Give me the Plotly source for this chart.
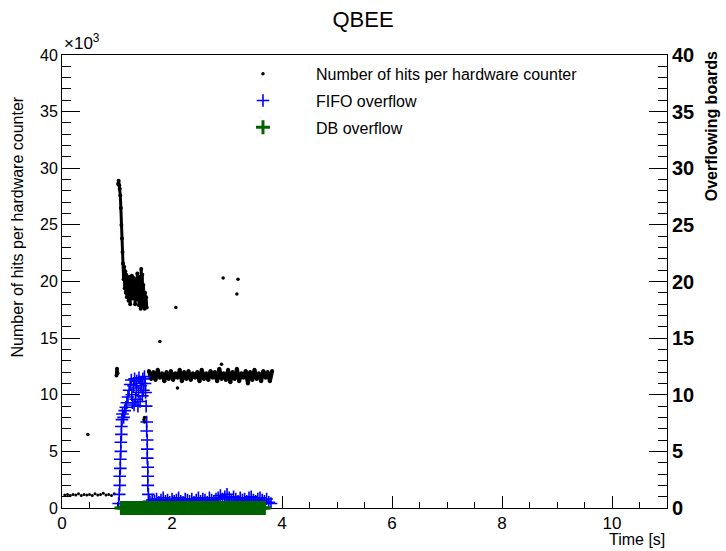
import plotly.graph_objects as go

# ---------------- data (hits in units of 10^3, overflow in boards) ----------------
pre_t = [0.05, 0.10, 0.15, 0.20, 0.25, 0.30, 0.35, 0.40, 0.45, 0.50,
         0.55, 0.60, 0.65, 0.70, 0.75, 0.80, 0.85, 0.90, 0.95]
pre_hits = [1.15, 1.2, 1.1, 1.2, 1.15, 1.25, 1.1, 1.2, 1.15, 1.2,
            1.1, 1.25, 1.15, 1.2, 1.3, 1.15, 1.2, 1.1, 1.25]

cluster_t = [0.99, 1.00, 1.00, 1.01]
cluster_hits = [11.7, 12.0, 12.3, 11.9]

spike_t = [1.02, 1.03, 1.04, 1.05, 1.06, 1.07, 1.08, 1.09, 1.10, 1.11,
           1.12, 1.13, 1.14, 1.15, 1.16, 1.17, 1.18, 1.19, 1.20, 1.21,
           1.22, 1.23, 1.24, 1.25, 1.26, 1.27, 1.28, 1.29, 1.30, 1.31,
           1.32, 1.33, 1.34, 1.35, 1.36, 1.37, 1.38, 1.39, 1.40, 1.41,
           1.42, 1.43, 1.44, 1.45, 1.46, 1.47, 1.48, 1.49, 1.50, 1.51,
           1.52, 1.53, 1.54]
spike_hits = [28.6, 28.9, 28.5, 28.2, 27.6, 26.5, 25.0, 23.8, 22.6, 21.6,
              20.2, 21.3, 19.4, 20.9, 19.0, 20.6, 18.6, 20.1, 19.2, 18.3,
              20.4, 19.0, 18.0, 19.9, 18.7, 20.5, 18.5, 19.7, 20.3, 18.6,
              19.4, 18.0, 20.2, 18.4, 19.8, 20.7, 18.8, 19.5, 17.9, 20.4,
              19.0, 17.6, 21.1, 18.2, 20.6, 17.8, 19.7, 18.4, 17.6, 19.0,
              17.8, 18.6, 17.7]

plat_t = [1.58, 1.62, 1.66, 1.70, 1.74, 1.78, 1.82, 1.86, 1.90, 1.94,
          1.98, 2.02, 2.06, 2.10, 2.14, 2.18, 2.22, 2.26, 2.30, 2.34,
          2.38, 2.42, 2.46, 2.50, 2.54, 2.58, 2.62, 2.66, 2.70, 2.74,
          2.78, 2.82, 2.86, 2.90, 2.94, 2.98, 3.02, 3.06, 3.10, 3.14,
          3.18, 3.22, 3.26, 3.30, 3.34, 3.38, 3.42, 3.46, 3.50, 3.54,
          3.58, 3.62, 3.66, 3.70, 3.74, 3.78, 3.82]
plat_hits = [12.1, 11.4, 12.0, 11.3, 12.2, 11.5, 11.9, 11.2, 12.0, 11.4,
             12.1, 11.3, 11.9, 11.5, 12.2, 11.2, 12.0, 11.4, 12.1, 11.3,
             11.9, 11.5, 12.0, 11.2, 12.2, 11.4, 11.9, 11.3, 12.1, 11.5,
             12.0, 11.2, 12.3, 11.4, 11.9, 11.3, 12.2, 11.1, 12.0, 11.4,
             12.3, 11.2, 11.9, 11.5, 12.1, 11.0, 12.0, 11.3, 12.2, 11.4,
             11.9, 11.2, 12.1, 11.5, 12.0, 11.2, 12.1]

stray_t = [0.47, 1.49, 1.50, 1.50, 1.78, 2.07, 2.10, 2.90, 2.93, 3.18, 3.20]
stray_hits = [6.5, 7.8, 7.6, 8.0, 14.7, 17.7, 10.6, 12.7, 20.3, 18.9, 20.2]

fifo_hump_t = [1.03, 1.04, 1.05, 1.05, 1.06, 1.06, 1.07, 1.07, 1.08, 1.08,
               1.09, 1.10, 1.12, 1.14, 1.16, 1.18, 1.20, 1.22, 1.24, 1.26,
               1.27, 1.28, 1.30, 1.31, 1.32, 1.34, 1.35, 1.36, 1.38, 1.39,
               1.40, 1.42, 1.43, 1.44, 1.46, 1.47, 1.48, 1.50, 1.51, 1.52,
               1.53, 1.54, 1.54, 1.55, 1.55, 1.55, 1.56, 1.56, 1.56, 1.57,
               1.58]
fifo_hump = [0.4, 1.2, 2.0, 2.8, 3.5, 4.3, 5.0, 5.8, 6.5, 7.2,
             7.8, 8.3, 8.0, 8.6, 8.9, 9.3, 9.8, 10.4, 10.9, 11.3,
             10.0, 9.3, 10.8, 9.1, 11.4, 9.6, 10.6, 11.2, 9.0, 10.2,
             11.5, 9.4, 10.8, 11.0, 9.9, 11.4, 10.4, 11.6, 11.0, 10.2,
             9.0, 7.6, 6.8, 6.0, 5.2, 4.4, 3.6, 2.8, 2.0, 1.2,
             0.6]

fifo_plat_t = [1.60, 1.64, 1.68, 1.72, 1.76, 1.80, 1.84, 1.88, 1.92, 1.96,
               2.00, 2.04, 2.08, 2.12, 2.16, 2.20, 2.24, 2.28, 2.32, 2.36,
               2.40, 2.44, 2.48, 2.52, 2.56, 2.60, 2.64, 2.68, 2.72, 2.76,
               2.80, 2.84, 2.88, 2.92, 2.96, 3.00, 3.04, 3.08, 3.12, 3.16,
               3.20, 3.24, 3.28, 3.32, 3.36, 3.40, 3.44, 3.48, 3.52, 3.56,
               3.60, 3.64, 3.68, 3.72, 3.76, 3.80]
fifo_plat = [0.5, 0.7, 0.6, 0.8, 0.5, 0.7, 0.9, 0.6, 0.7, 0.5,
             0.8, 0.6, 0.7, 0.9, 0.6, 0.5, 0.8, 0.7, 0.6, 0.8,
             0.5, 0.7, 0.9, 0.6, 0.8, 0.7, 0.5, 0.9, 0.7, 0.6,
             0.8, 0.9, 1.1, 0.8, 1.0, 1.2, 0.9, 0.7, 1.0, 0.8,
             0.6, 0.9, 0.7, 0.8, 0.6, 0.9, 1.0, 0.7, 0.6, 0.8,
             0.9, 0.7, 0.6, 0.8, 0.5, 0.4]

db_t = [1.08, 1.12, 1.16, 1.20, 1.24, 1.28, 1.32, 1.36, 1.40, 1.44,
        1.48, 1.52, 1.56, 1.60, 1.64, 1.68, 1.72, 1.76, 1.80, 1.84,
        1.88, 1.92, 1.96, 2.00, 2.04, 2.08, 2.12, 2.16, 2.20, 2.24,
        2.28, 2.32, 2.36, 2.40, 2.44, 2.48, 2.52, 2.56, 2.60, 2.64,
        2.68, 2.72, 2.76, 2.80, 2.84, 2.88, 2.92, 2.96, 3.00, 3.04,
        3.08, 3.12, 3.16, 3.20, 3.24, 3.28, 3.32, 3.36, 3.40, 3.44,
        3.48, 3.52, 3.56, 3.60, 3.64, 3.68]
db_v = [0, 0, 0, 0, 0, 0, 0, 0, 0, 0,
        0, 0, 0, 0, 0, 0, 0, 0, 0, 0,
        0, 0, 0, 0, 0, 0, 0, 0, 0, 0,
        0, 0, 0, 0, 0, 0, 0, 0, 0, 0,
        0, 0, 0, 0, 0, 0, 0, 0, 0, 0,
        0, 0, 0, 0, 0, 0, 0, 0, 0, 0,
        0, 0, 0, 0, 0, 0]

x_ticks = [0, 2, 4, 6, 8, 10]
y_ticks = [0, 5, 10, 15, 20, 25, 30, 35, 40]

# ---------------- figure ----------------
FONT = "Liberation Sans, Arial, sans-serif"
BLUE = "#0000ff"
GREEN = "#006400"

fig = go.Figure()

dot = dict(color="black", size=4)
fig.add_trace(go.Scatter(x=pre_t, y=pre_hits, mode="markers", marker=dict(color="black", size=3),
                         showlegend=False, hoverinfo="skip"))
fig.add_trace(go.Scatter(x=cluster_t, y=cluster_hits, mode="lines+markers", marker=dot,
                         line=dict(color="black", width=3), showlegend=False, hoverinfo="skip"))
fig.add_trace(go.Scatter(x=spike_t, y=spike_hits, mode="lines+markers", marker=dot,
                         line=dict(color="black", width=3), showlegend=False, hoverinfo="skip"))
fig.add_trace(go.Scatter(x=plat_t, y=plat_hits, mode="lines+markers", marker=dot,
                         line=dict(color="black", width=4), showlegend=False, hoverinfo="skip"))
fig.add_trace(go.Scatter(x=stray_t, y=stray_hits, mode="markers", marker=dict(color="black", size=3.5),
                         name="Number of hits per hardware counter", legendgroup="a"))

fig.add_trace(go.Scatter(x=fifo_hump_t + fifo_plat_t, y=fifo_hump + fifo_plat, mode="markers",
                         yaxis="y2", name="FIFO overflow", legendgroup="b",
                         marker=dict(symbol="cross-thin", size=9, color=BLUE,
                                     line=dict(color=BLUE, width=1.6))))
fig.add_trace(go.Scatter(x=db_t, y=db_v, mode="markers", yaxis="y2", name="DB overflow",
                         legendgroup="c", cliponaxis=False,
                         marker=dict(symbol="cross-thin", size=10, color=GREEN,
                                     line=dict(color=GREEN, width=3))))

axis_common = dict(showgrid=False, zeroline=False, showline=True, linecolor="black",
                   linewidth=1, ticks="inside", tickcolor="black", tickwidth=1)

fig.update_layout(
    width=726, height=551,
    margin=dict(l=62, r=59, t=55, b=43),
    paper_bgcolor="white", plot_bgcolor="white",
    font=dict(family=FONT, color="black"),
    title=dict(text="QBEE", x=0.5, xanchor="center", y=1 - 19 / 551, yanchor="middle",
               font=dict(size=22, family=FONT)),
    legend=dict(x=0.2446, y=0.996, xanchor="left", yanchor="top", bgcolor="rgba(0,0,0,0)",
                font=dict(size=16, family=FONT), tracegroupgap=3, itemwidth=96),
    xaxis=dict(range=[0, 11], tickvals=x_ticks, ticklen=12, tickfont=dict(size=17),
               mirror=True, layer="below traces",
               minor=dict(ticks="inside", ticklen=6, dtick=0.5, tick0=0, tickcolor="black"),
               **axis_common),
    yaxis=dict(range=[0, 40], tickvals=y_ticks, ticklen=18, tickfont=dict(size=16),
               minor=dict(ticks="inside", ticklen=9, dtick=1, tick0=0, tickcolor="black"),
               **axis_common),
    yaxis2=dict(range=[0, 40], tickvals=y_ticks, overlaying="y", side="right", ticklen=18,
                tickfont=dict(size=20, weight="bold"),
                minor=dict(ticks="inside", ticklen=9, dtick=1, tick0=0, tickcolor="black"),
                **axis_common),
    annotations=[
        dict(text="×10<sup>3</sup>", x=0, y=1.0, xref="paper", yref="paper", xanchor="left",
             yanchor="bottom", showarrow=False, font=dict(size=17, family=FONT)),
        dict(text="Number of hits per hardware counter", x=-0.0744, y=0.914, xref="paper",
             yref="paper", xanchor="center", yanchor="top", textangle=-90, showarrow=False,
             font=dict(size=16, family=FONT)),
        dict(text="<b>Overflowing boards</b>", x=1.073, y=1.013, xref="paper", yref="paper",
             xanchor="center", yanchor="top", textangle=-90, showarrow=False,
             font=dict(size=16, family=FONT)),
        dict(text="Time [s]", x=1.0, y=-0.069, xref="paper", yref="paper", xanchor="right",
             yanchor="middle", showarrow=False, font=dict(size=16, family=FONT)),
    ],
)

fig.write_html("out.html", config={"displayModeBar": False},
               post_script="document.body.style.margin='0';")
